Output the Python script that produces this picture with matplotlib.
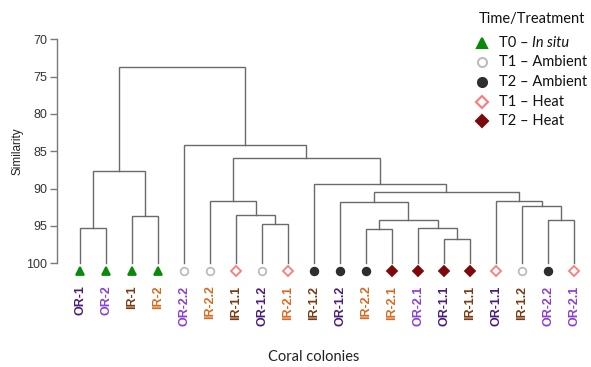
import matplotlib
matplotlib.use("Agg")
import matplotlib.pyplot as plt
from matplotlib.lines import Line2D

# ---- data ----
leaf_labels = ["OR-1", "OR-2", "IR-1", "IR-2", "OR-2.2", "IR-2.2", "IR-1.1", "OR-1.2",
               "IR-2.1", "IR-1.2", "OR-1.2", "IR-2.2", "IR-2.1", "OR-2.1", "OR-1.1",
               "IR-1.1", "OR-1.1", "IR-1.2", "OR-2.2", "OR-2.1"]
leaf_groups = ["T0", "T0", "T0", "T0", "T1A", "T1A", "T1H", "T1A", "T1H", "T2A",
               "T2A", "T2A", "T2H", "T2H", "T2H", "T2H", "T1H", "T1A", "T2A", "T1H"]
# merges: (left node, right node, similarity); leaves are 0..19, new nodes 20, 21, ...
merges = [
    (0, 1, 95.3),     # 20
    (2, 3, 93.6),     # 21
    (20, 21, 87.7),   # 22
    (7, 8, 94.7),     # 23
    (6, 23, 93.5),    # 24
    (5, 24, 91.65),   # 25
    (11, 12, 95.4),   # 26
    (14, 15, 96.8),   # 27
    (13, 27, 95.3),   # 28
    (26, 28, 94.15),  # 29
    (10, 29, 91.8),   # 30
    (18, 19, 94.15),  # 31
    (17, 31, 92.3),   # 32
    (16, 32, 91.7),   # 33
    (30, 33, 90.5),   # 34
    (9, 34, 89.4),    # 35
    (25, 35, 85.85),  # 36
    (4, 36, 84.1),    # 37
    (22, 37, 73.7),   # 38
]
y_ticks = [70, 75, 80, 85, 90, 95, 100]

site_colors = {"OR-1": "#4a1e78", "OR-2": "#8b3fd6", "IR-1": "#7a3a12", "IR-2": "#d96a1e"}
group_styles = {
    "T0":  dict(marker="^", mfc="#0a8a0a", mec="#0a8a0a", ms=6, label=("T0 –", "In situ")),
    "T1A": dict(marker="o", mfc="white", mec="#bdbdbd", ms=5.5, label=("T1 – Ambient", "")),
    "T2A": dict(marker="o", mfc="#2e2e2e", mec="#2e2e2e", ms=5.5, label=("T2 – Ambient", "")),
    "T1H": dict(marker="D", mfc="white", mec="#ff7b7b", ms=4.8, label=("T1 – Heat", "")),
    "T2H": dict(marker="D", mfc="#7d0a0a", mec="#7d0a0a", ms=4.8, label=("T2 – Heat", "")),
}
legend_order = ["T0", "T1A", "T2A", "T1H", "T2H"]

# ---- figure ----
W, H = 591, 367
fig = plt.figure(figsize=(W / 100, H / 100), dpi=100)
ax_l, ax_r, ax_t, ax_b = 57, 585, 30, 280
ax = fig.add_axes([ax_l / W, 1 - ax_b / H, (ax_r - ax_l) / W, (ax_b - ax_t) / H])

n = len(leaf_labels)
xpos = {i: float(i) for i in range(n)}
ypos = {i: 100.0 for i in range(n)}
line_col = "#6a6a6a"
for k, (a, b, h) in enumerate(merges):
    node = n + k
    xa, xb = xpos[a], xpos[b]
    ax.plot([xa, xa, xb, xb], [ypos[a], h, h, ypos[b]], color=line_col, lw=1.0,
            solid_joinstyle="miter", zorder=2)
    xpos[node] = (xa + xb) / 2
    ypos[node] = h

for i, g in enumerate(leaf_groups):
    st = group_styles[g]
    ax.plot([i], [101.05], linestyle="none", marker=st["marker"], markerfacecolor=st["mfc"],
            markeredgecolor=st["mec"], markersize=st["ms"], markeredgewidth=1.3, zorder=3)

ax.set_xlim(-0.885, (ax_r - 80) / 26)
ppu = 224 / 30.0
ax.set_ylim(100 + (ax_b - 263.3) / ppu, 70 - (39.3 - ax_t) / ppu)

for s in ["top", "right", "bottom"]:
    ax.spines[s].set_visible(False)
ax.spines["left"].set_bounds(70, 100)
ax.spines["left"].set_color("#7a7a7a")
ax.spines["left"].set_linewidth(1.0)
ax.set_yticks(y_ticks)
ax.set_yticklabels([str(t) for t in y_ticks], fontfamily="Liberation Sans", fontsize=9, color="#333333")
ax.tick_params(axis="y", length=5, width=1.0, color="#7a7a7a", pad=2)

ax.set_xticks(range(n))
ax.set_xticklabels(leaf_labels, rotation=90, fontfamily="Liberation Sans", fontsize=9,
                   fontweight="bold", va="top", ha="center")
for lbl, name in zip(ax.get_xticklabels(), leaf_labels):
    lbl.set_color(site_colors[name.split(".")[0]])
ax.tick_params(axis="x", length=0, pad=4)

fig.text(18 / W, 1 - 151 / H, "Similarity", rotation=90, ha="center", va="center",
         fontfamily="Liberation Sans", fontsize=8.5, color="#222222")
fig.text(314 / W, 1 - 357 / H, "Coral colonies", ha="center", va="center",
         fontfamily="Lato", fontsize=10.5, color="#222222")

# legend
fig.text(532 / W, 1 - 19 / H, "Time/Treatment", ha="center", va="center",
         fontfamily="Lato", fontsize=10.5, color="#111111")
ys = [43, 62, 82, 102, 121]
renderer = fig.canvas.get_renderer()
for g, y in zip(legend_order, ys):
    st = group_styles[g]
    fig.add_artist(Line2D([482 / W], [1 - y / H], transform=fig.transFigure, linestyle="none",
                          marker=st["marker"], markerfacecolor=st["mfc"], markeredgecolor=st["mec"],
                          markersize=st["ms"] + 1, markeredgewidth=1.5))
    main, ital = st["label"]
    t = fig.text(499 / W, 1 - y / H, main, ha="left", va="center",
                 fontfamily="Lato", fontsize=10.5, color="#111111")
    if ital:
        bb = t.get_window_extent(renderer=renderer)
        fig.text((bb.x1 + 3.5) / W, 1 - y / H, ital, ha="left", va="center",
                 fontfamily="Lato", fontstyle="italic", fontsize=10.5, color="#111111")

fig.savefig("out.png", dpi=100)
